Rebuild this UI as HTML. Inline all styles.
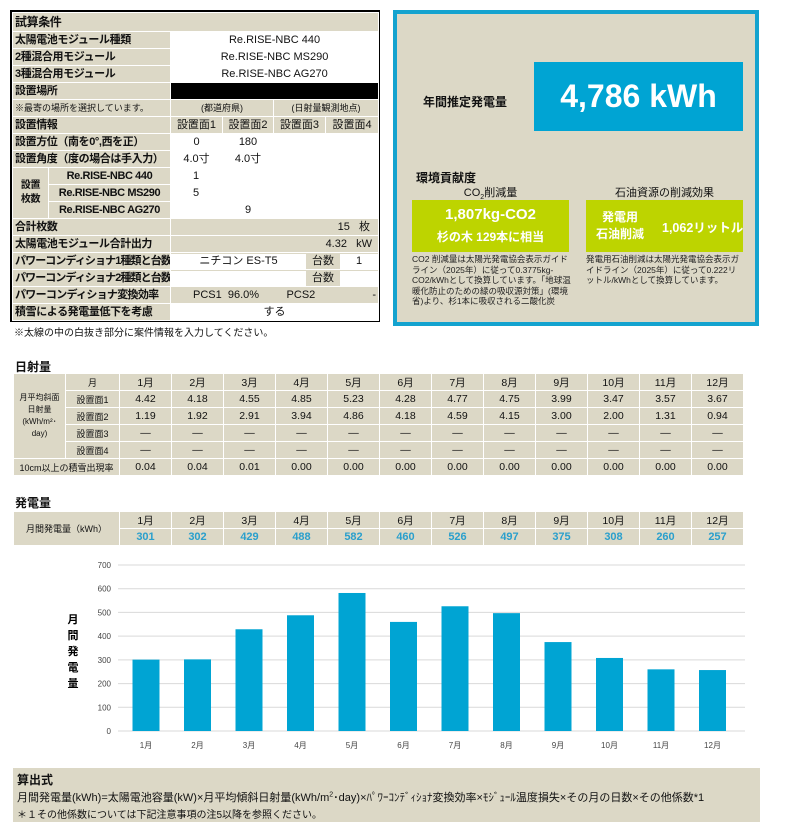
<!DOCTYPE html>
<html><head><meta charset="utf-8">
<style>
*{box-sizing:border-box;margin:0;padding:0}
body{width:785px;height:822px;background:#fff;position:relative;overflow:hidden;font-family:"Liberation Sans","Noto Sans CJK JP",sans-serif;color:#111}
.abs{position:absolute}
#cond{left:10px;top:10px;width:370px;height:312px;border:2px solid #000;background:#dcd8c6}
#cond table{width:366px;border-collapse:collapse;table-layout:fixed;font-size:11px}
#cond td{height:17px;border:1px solid #fff;padding:0 2px;white-space:nowrap;overflow:hidden;line-height:15px}
#cond td.l{font-weight:bold;background:#dcd8c6;letter-spacing:-0.4px}
#cond td.w{background:#fff;text-align:center}
#cond td.b{background:#dcd8c6;text-align:center}
#cond td.k{background:#000}
#right{left:393px;top:10px;width:366px;height:316px;border:4px solid #14a3cf;background:#dcd8c6}
.grid{border-collapse:collapse;table-layout:fixed;font-size:10.5px;background:#dcd8c6}
.grid td{border:1px solid #fff;text-align:center;height:17px;padding:0;white-space:nowrap;overflow:hidden}
h3{position:absolute;font-size:12px;font-weight:bold}
.green{background:#bdd400;color:#fff;font-weight:bold;position:absolute;white-space:nowrap}
.note{position:absolute;font-size:8.5px;line-height:10.5px;color:#222}
</style></head><body>

<div id="cond" class="abs">
<table>
<colgroup><col style="width:36px"><col style="width:122px"><col style="width:52px"><col style="width:51px"><col style="width:52px"><col style="width:53px"></colgroup>
<tr><td class="l" colspan="6" style="height:19px;font-size:12px">試算条件</td></tr>
<tr><td class="l" colspan="2">太陽電池モジュール種類</td><td class="w" colspan="4">Re.RISE-NBC 440</td></tr>
<tr><td class="l" colspan="2">2種混合用モジュール</td><td class="w" colspan="4">Re.RISE-NBC MS290</td></tr>
<tr><td class="l" colspan="2">3種混合用モジュール</td><td class="w" colspan="4">Re.RISE-NBC AG270</td></tr>
<tr><td class="l" colspan="2">設置場所</td><td class="k" colspan="4"></td></tr>
<tr><td colspan="2" style="font-size:9px;background:#dcd8c6">※最寄の場所を選択しています。</td><td class="b" colspan="2" style="font-size:9px">(都道府県)</td><td class="b" colspan="2" style="font-size:9px">(日射量観測地点)</td></tr>
<tr><td class="l" colspan="2">設置情報</td><td class="b">設置面1</td><td class="b">設置面2</td><td class="b">設置面3</td><td class="b">設置面4</td></tr>
<tr><td class="l" colspan="2">設置方位（南を0°,西を正）</td><td class="w">0</td><td class="w">180</td><td class="w"></td><td class="w"></td></tr>
<tr><td class="l" colspan="2">設置角度（度の場合は手入力）</td><td class="w">4.0寸</td><td class="w">4.0寸</td><td class="w"></td><td class="w"></td></tr>
<tr><td class="l" rowspan="3" style="text-align:center;line-height:14px;font-size:10px">設置<br>枚数</td><td class="l" style="text-align:center">Re.RISE-NBC 440</td><td class="w" style="text-align:left;padding-left:22px">1</td><td class="w"></td><td class="w"></td><td class="w"></td></tr>
<tr><td class="l" style="text-align:center">Re.RISE-NBC MS290</td><td class="w" style="text-align:left;padding-left:22px">5</td><td class="w"></td><td class="w"></td><td class="w"></td></tr>
<tr><td class="l" style="text-align:center">Re.RISE-NBC AG270</td><td class="w"></td><td class="w">9</td><td class="w"></td><td class="w"></td></tr>
<tr><td class="l" colspan="2">合計枚数</td><td colspan="4" style="text-align:right;padding-right:8px;background:#dcd8c6">15 &nbsp;&nbsp;枚</td></tr>
<tr><td class="l" colspan="2">太陽電池モジュール合計出力</td><td colspan="4" style="text-align:right;padding-right:6px;background:#dcd8c6">4.32 &nbsp;&nbsp;kW</td></tr>
<tr><td class="l" colspan="2" style="letter-spacing:-0.9px">パワーコンディショナ1種類と台数</td><td colspan="4" style="padding:0"><div style="display:flex;height:15px"><div style="width:135px;background:#fff;text-align:center">ニチコン ES-T5</div><div style="width:34px;text-align:center">台数</div><div style="flex:1;background:#fff;text-align:center">1</div></div></td></tr>
<tr><td class="l" colspan="2" style="letter-spacing:-0.9px">パワーコンディショナ2種類と台数</td><td colspan="4" style="padding:0"><div style="display:flex;height:15px"><div style="width:135px;background:#fff"></div><div style="width:34px;text-align:center">台数</div><div style="flex:1;background:#fff"></div></div></td></tr>
<tr><td class="l" colspan="2" style="letter-spacing:-0.7px">パワーコンディショナ変換効率</td><td colspan="4" style="background:#dcd8c6;padding-left:22px">PCS1 &nbsp;96.0% &nbsp;&nbsp;&nbsp;&nbsp;&nbsp;&nbsp;&nbsp;&nbsp;PCS2 <span style="float:right">-</span></td></tr>
<tr><td class="l" colspan="2">積雪による発電量低下を考慮</td><td class="w" colspan="4">する</td></tr>
</table>
</div>
<div class="abs" style="left:14px;top:324px;font-size:10px">※太線の中の白抜き部分に案件情報を入力してください。</div>

<div id="right" class="abs">
<div class="abs" style="left:26px;top:79px;font-size:12px;font-weight:bold">年間推定発電量</div>
<div class="abs" style="left:137px;top:48px;width:209px;height:69px;background:#00a4d3;color:#fff;font-size:32px;font-weight:bold;text-align:center;line-height:69px">4,786 kWh</div>
<div class="abs" style="left:19px;top:155px;font-size:12px;font-weight:bold">環境貢献度</div>
<div class="abs" style="left:15px;top:170px;width:157px;text-align:center;font-size:11px">CO<sub style="font-size:7px">2</sub>削減量</div>
<div class="abs" style="left:189px;top:170px;width:157px;text-align:center;font-size:11px">石油資源の削減効果</div>
<div class="green" style="left:15px;top:186px;width:157px;height:52px"><div style="text-align:center;font-size:15px;margin-top:6px">1,807kg-CO2</div><div style="text-align:center;font-size:12px;margin-top:5px">杉の木 129本に相当</div></div>
<div class="green" style="left:189px;top:186px;width:157px;height:52px"><div class="abs" style="left:10px;top:9px;font-size:12px;line-height:17px;text-align:center">発電用<br>石油削減</div><div class="abs" style="left:76px;top:17px;font-size:12.5px">1,062リットル</div></div>
<div class="note" style="left:15px;top:240px;width:160px">CO2 削減量は太陽光発電協会表示ガイドライン（2025年）に従って0.3775kg-CO2/kWhとして換算しています。「地球温暖化防止のための緑の吸収源対策」(環境省)より、杉1本に吸収される二酸化炭</div>
<div class="note" style="left:189px;top:240px;width:158px">発電用石油削減は太陽光発電協会表示ガイドライン（2025年）に従って0.222リットル/kWhとして換算しています。</div>
</div>

<h3 style="left:15px;top:358px">日射量</h3>
<table class="grid abs" style="left:13px;top:373px;width:730px">
<colgroup><col style="width:52px"><col style="width:54px"><col span="12" style="width:52px"></colgroup>
<tr><td rowspan="5" style="font-size:8px;line-height:12px">月平均斜面<br>日射量<br>(kWh/m²･<br>day)</td><td style="font-size:9px">月</td><td>1月</td><td>2月</td><td>3月</td><td>4月</td><td>5月</td><td>6月</td><td>7月</td><td>8月</td><td>9月</td><td>10月</td><td>11月</td><td>12月</td></tr>
<tr><td style="font-size:9px">設置面1</td><td>4.42</td><td>4.18</td><td>4.55</td><td>4.85</td><td>5.23</td><td>4.28</td><td>4.77</td><td>4.75</td><td>3.99</td><td>3.47</td><td>3.57</td><td>3.67</td></tr>
<tr><td style="font-size:9px">設置面2</td><td>1.19</td><td>1.92</td><td>2.91</td><td>3.94</td><td>4.86</td><td>4.18</td><td>4.59</td><td>4.15</td><td>3.00</td><td>2.00</td><td>1.31</td><td>0.94</td></tr>
<tr><td style="font-size:9px">設置面3</td><td>—</td><td>—</td><td>—</td><td>—</td><td>—</td><td>—</td><td>—</td><td>—</td><td>—</td><td>—</td><td>—</td><td>—</td></tr>
<tr><td style="font-size:9px">設置面4</td><td>—</td><td>—</td><td>—</td><td>—</td><td>—</td><td>—</td><td>—</td><td>—</td><td>—</td><td>—</td><td>—</td><td>—</td></tr>
<tr><td colspan="2" style="font-size:9px">10cm以上の積雪出現率</td><td>0.04</td><td>0.04</td><td>0.01</td><td>0.00</td><td>0.00</td><td>0.00</td><td>0.00</td><td>0.00</td><td>0.00</td><td>0.00</td><td>0.00</td><td>0.00</td></tr>
</table>

<h3 style="left:15px;top:494px">発電量</h3>
<table class="grid abs" style="left:13px;top:511px;width:730px">
<colgroup><col style="width:106px"><col span="12" style="width:52px"></colgroup>
<tr><td rowspan="2" style="font-size:9px">月間発電量（kWh）</td><td>1月</td><td>2月</td><td>3月</td><td>4月</td><td>5月</td><td>6月</td><td>7月</td><td>8月</td><td>9月</td><td>10月</td><td>11月</td><td>12月</td></tr>
<tr style="color:#2a9fcc;font-weight:bold;font-size:11px"><td>301</td><td>302</td><td>429</td><td>488</td><td>582</td><td>460</td><td>526</td><td>497</td><td>375</td><td>308</td><td>260</td><td>257</td></tr>
</table>

<svg id="chart" class="abs" style="left:0;top:550px" width="785" height="210"></svg>

<div class="abs" style="left:13px;top:768px;width:747px;height:54px;background:#dcd8c6">
<div class="abs" style="left:4px;top:3px;font-size:12px;font-weight:bold">算出式</div>
<div class="abs" style="left:4px;top:21px;font-size:11px;white-space:nowrap">月間発電量(kWh)=太陽電池容量(kW)×月平均傾斜日射量(kWh/m<sup style="font-size:7px">2</sup>･day)×ﾊﾟﾜｰｺﾝﾃﾞｨｼｮﾅ変換効率×ﾓｼﾞｭｰﾙ温度損失×その月の日数×その他係数*1</div>
<div class="abs" style="left:4px;top:38px;font-size:10px;white-space:nowrap">＊１その他係数については下記注意事項の注5以降を参照ください。</div>
</div>

<script>
const months = ['1月','2月','3月','4月','5月','6月','7月','8月','9月','10月','11月','12月'];
const generation = [301,302,429,488,582,460,526,497,375,308,260,257];
const yTicks = [0,100,200,300,400,500,600,700];
const yAxisTitle = ['月','間','発','電','量'];
(function(){
  const svg = document.getElementById('chart');
  const NS = 'http://www.w3.org/2000/svg';
  const x0 = 146, step = 51.5, barW = 27;
  const yBase = 181, yMax = 700, yH = 166;
  const y = v => yBase - v * yH / yMax;
  const x = i => x0 + i * step;
  yTicks.forEach(t => {
    const l = document.createElementNS(NS,'line');
    
    
    l.setAttribute('x1',118); l.setAttribute('x2',745);
    l.setAttribute('y1',y(t)); l.setAttribute('y2',y(t));
    l.setAttribute('stroke','#d9d9d9'); l.setAttribute('stroke-width','1');
    svg.appendChild(l);
    const tx = document.createElementNS(NS,'text');
    
    
    tx.setAttribute('x',111); tx.setAttribute('y',y(t)+3);
    tx.setAttribute('text-anchor','end'); tx.setAttribute('font-size','8');
    tx.setAttribute('fill','#444');
    tx.textContent = t;
    svg.appendChild(tx);
  });
  generation.forEach((v,i) => {
    const r = document.createElementNS(NS,'rect');
    
    
    r.setAttribute('x',x(i)-barW/2); r.setAttribute('width',barW);
    r.setAttribute('y',y(v)); r.setAttribute('height',yBase-y(v));
    r.setAttribute('fill','#00a4d3');
    svg.appendChild(r);
    const tx = document.createElementNS(NS,'text');
    
    
    tx.setAttribute('x',x(i)); tx.setAttribute('y',198);
    tx.setAttribute('text-anchor','middle'); tx.setAttribute('font-size','8');
    tx.setAttribute('fill','#444');
    tx.textContent = months[i];
    svg.appendChild(tx);
  });
  yAxisTitle.forEach((c,i) => {
    const tx = document.createElementNS(NS,'text');
    
    
    tx.setAttribute('x',73); tx.setAttribute('y',73+i*16);
    tx.setAttribute('text-anchor','middle'); tx.setAttribute('font-size','11');
    tx.setAttribute('font-weight','bold');
    tx.textContent = c;
    svg.appendChild(tx);
  });
})();
</script>
</body></html>
